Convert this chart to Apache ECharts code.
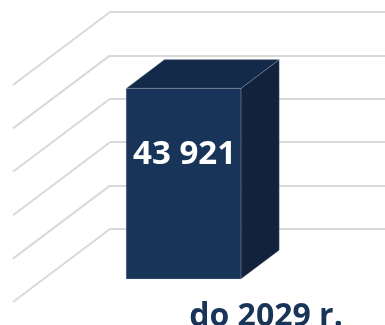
<!DOCTYPE html>
<html>
<head>
<meta charset="utf-8">
<script src="https://cdn.jsdelivr.net/npm/echarts@6/dist/echarts.min.js"></script>
<style>
  html, body { margin: 0; padding: 0; background: #ffffff; }
  #chart { width: 385px; height: 325px; }
</style>
</head>
<body>
<div id="chart"></div>
<script>
// Data
const categories = ['do 2029 r.'];
const values = [43921];
const tickValues = [0, 10000, 20000, 30000, 40000, 50000];

// 3D projection: offset from the back wall towards the viewer
const DEPTH = [-97, 73];         // full floor depth (back wall -> front edge)
const BAR_BACK = 0.29;           // bar back face, fraction of depth
const BAR_FRONT = 0.685;         // bar front face, fraction of depth
const BAR_WIDTH = 0.41;          // fraction of the category band

const fmt = v => String(v).replace(/\B(?=(\d{3})+(?!\d))/g, ' ');

const chart = echarts.init(document.getElementById('chart'), null, { renderer: 'canvas' });

chart.setOption({
  animation: false,
  backgroundColor: '#ffffff',
  grid: { left: 110, right: -5, top: 12, bottom: 96, containLabel: false, outerBoundsMode: 'none' },
  xAxis: {
    type: 'category',
    data: categories,
    axisLine: { show: false },
    axisTick: { show: false },
    axisLabel: {
      margin: 72,
      padding: [0, 0, 0, 32],
      color: '#183559',
      fontFamily: 'Open Sans',
      fontWeight: 'bold',
      fontSize: 32
    }
  },
  yAxis: {
    type: 'value',
    min: 0,
    max: 50000,
    interval: 10000,
    axisLabel: { show: false },
    axisLine: { show: false },
    axisTick: { show: false },
    splitLine: { lineStyle: { color: '#d9d9d9', width: 2 } }
  },
  series: [
    {
      // receding floor/side lines for each gridline
      type: 'custom',
      silent: true,
      data: tickValues,
      encode: { y: 0 },
      renderItem: function (params, api) {
        const x0 = params.coordSys.x;
        const y = api.coord([0, api.value(0)])[1];
        return {
          type: 'line',
          shape: { x1: x0, y1: y, x2: x0 + DEPTH[0], y2: y + DEPTH[1] },
          style: { stroke: '#d9d9d9', lineWidth: 2 }
        };
      },
      z: 1
    },
    {
      type: 'custom',
      data: values.map((v, i) => [i, v]),
      encode: { x: 0, y: 1 },
      renderItem: function (params, api) {
        const cat = api.value(0);
        const val = api.value(1);
        const base = api.coord([cat, 0]);
        const top = api.coord([cat, val]);
        const w = api.size([1, 0])[0] * BAR_WIDTH;
        const bx = [DEPTH[0] * BAR_BACK, DEPTH[1] * BAR_BACK];
        const fx = [DEPTH[0] * BAR_FRONT, DEPTH[1] * BAR_FRONT];
        const xl = base[0] - w / 2, xr = base[0] + w / 2;
        const yT = top[1], yB = base[1];
        const P = (x, y, o) => [x + o[0], y + o[1]];
        const edge = { stroke: 'rgba(190,198,210,0.35)', lineWidth: 0.7 };
        return {
          type: 'group',
          children: [
            {
              type: 'polygon',
              shape: { points: [P(xr, yT, fx), P(xr, yT, bx), P(xr, yB, bx), P(xr, yB, fx)] },
              style: Object.assign({ fill: '#12223d' }, edge)
            },
            {
              type: 'polygon',
              shape: { points: [P(xl, yT, fx), P(xl, yT, bx), P(xr, yT, bx), P(xr, yT, fx)] },
              style: Object.assign({ fill: '#142a4a' }, edge)
            },
            {
              type: 'rect',
              shape: { x: xl + fx[0], y: yT + fx[1], width: w, height: yB - yT },
              style: Object.assign({ fill: '#183559' }, edge)
            },
            {
              type: 'text',
              x: base[0] + fx[0] + 1,
              y: yT + fx[1] + 66,
              style: {
                text: fmt(val),
                fill: '#ffffff',
                font: 'bold 33px "Open Sans"',
                align: 'center',
                verticalAlign: 'middle'
              }
            }
          ]
        };
      },
      z: 2
    }
  ]
});
</script>
</body>
</html>
